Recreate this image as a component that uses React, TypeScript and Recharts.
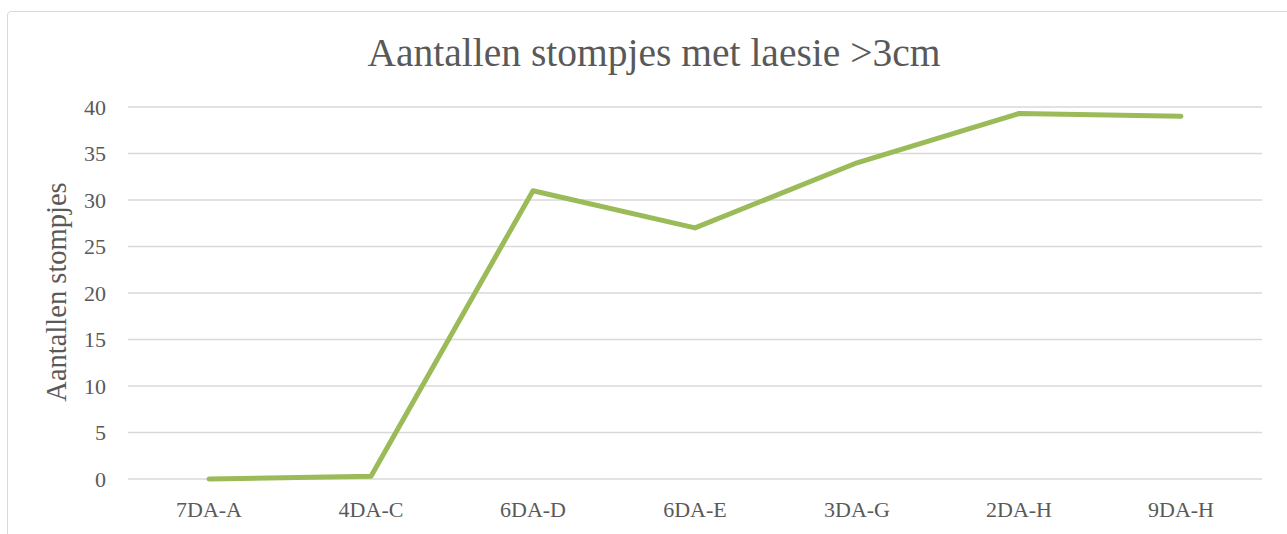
import React from 'react';
import { LineChart, Line, XAxis, YAxis, CartesianGrid } from 'recharts';

const categories = ['7DA-A', '4DA-C', '6DA-D', '6DA-E', '3DA-G', '2DA-H', '9DA-H'];
const values = [0, 0.3, 31, 27, 34, 39.3, 39];
const yTicks = [0, 5, 10, 15, 20, 25, 30, 35, 40];

const data = categories.map((c, i) => ({ name: c, value: values[i] }));

const FONT = '"Liberation Serif", "DejaVu Serif", serif';
const TEXT = '#595959';

export default function App() {
  return (
    <div style={{ position: 'absolute', left: 0, top: 0, width: 1287, height: 534, overflow: 'hidden', background: '#fff' }}>
      <div style={{ position: 'absolute', left: 7, top: 11, width: 1400, height: 700, border: '1.5px solid #d9d9d9', borderRadius: 4 }} />
      <div style={{ position: 'absolute', left: 0, top: 0 }}>
        <LineChart width={1287} height={534} data={data} margin={{ top: 107, right: 25, bottom: 0, left: 0 }}>
          <text x={654} y={66} textAnchor="middle" fill={TEXT} fontFamily={FONT} fontSize={39.5}>
            Aantallen stompjes met laesie &gt;3cm
          </text>
          <text x={0} y={0} transform="translate(66,292) rotate(-90)" textAnchor="middle" fill={TEXT} fontFamily={FONT} fontSize={28.5}>
            Aantallen stompjes
          </text>
          <CartesianGrid vertical={false} stroke="#d9d9d9" strokeWidth={1.5} />
          <XAxis
            dataKey="name"
            scale="band"
            height={55}
            axisLine={false}
            tickLine={false}
            tickSize={0}
            tickMargin={22}
            tick={{ fill: TEXT, fontFamily: FONT, fontSize: 22 }}
            interval={0}
          />
          <YAxis
            width={128}
            domain={[0, 40]}
            ticks={yTicks}
            axisLine={false}
            tickLine={false}
            tickSize={0}
            tickMargin={22}
            tick={{ fill: TEXT, fontFamily: FONT, fontSize: 22 }}
            interval={0}
          />
          <Line
            type="linear"
            dataKey="value"
            stroke="#9bbb59"
            strokeWidth={5}
            strokeLinecap="round"
            strokeLinejoin="round"
            dot={false}
            activeDot={false}
            isAnimationActive={false}
          />
        </LineChart>
      </div>
    </div>
  );
}
